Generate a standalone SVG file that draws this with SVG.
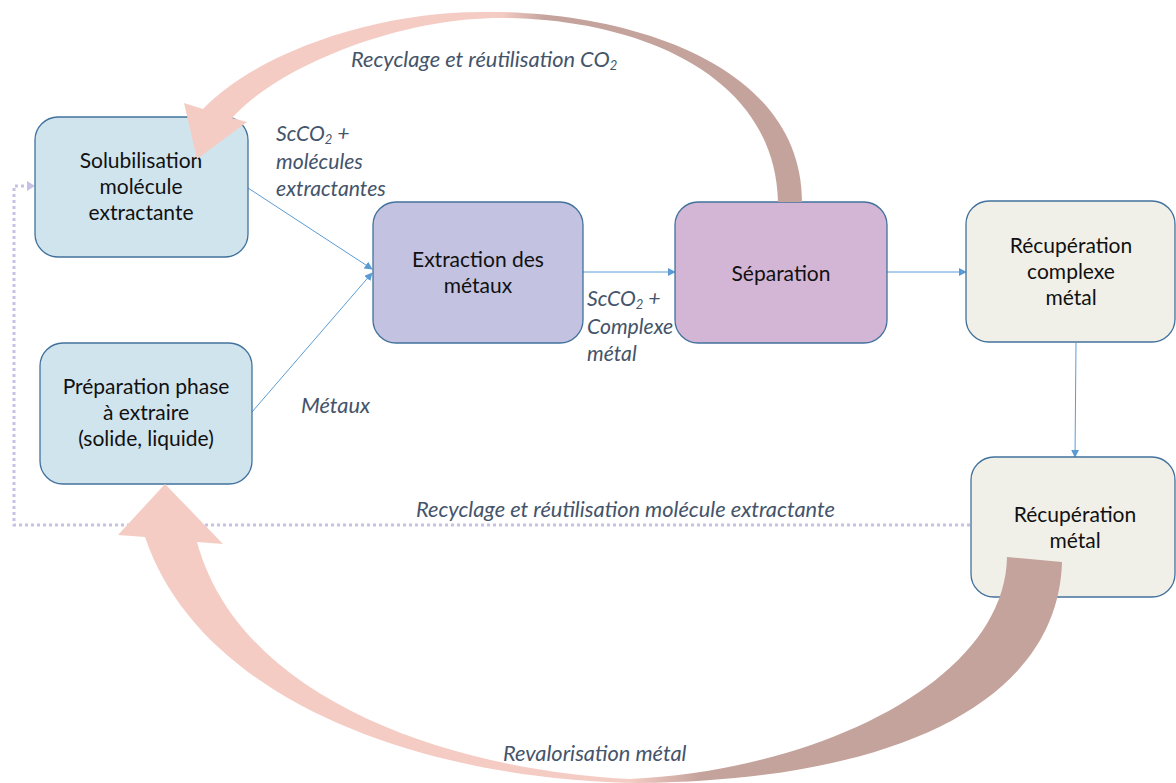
<svg xmlns="http://www.w3.org/2000/svg" width="1176" height="783" viewBox="0 0 1176 783">
<defs>
<style>
.box{stroke:#41719C;stroke-width:1.3}
.b1{fill:#D0E4EE}
.b2{fill:#C3C2E0}
.b3{fill:#D3B6D5}
.b4{fill:#F1F0E8}
.nt{font-family:Lato,"Liberation Sans",sans-serif;font-size:21px;fill:#111;text-anchor:middle}
.lb{font-family:Lato,"Liberation Sans",sans-serif;font-size:21.8px;font-style:italic;fill:#44546A}
.lm{font-size:21.2px}
.sub{font-size:13px}
.conn{stroke:#5B9BD5;stroke-width:1;fill:none}
.dot{stroke:#C7C2E3;stroke-width:3;stroke-dasharray:3 3;fill:none}
</style>
<marker id="ah" viewBox="0 0 10 10" refX="9" refY="5" markerWidth="8" markerHeight="8" markerUnits="userSpaceOnUse" orient="auto">
<path d="M0,0 L10,5 L0,10 Z" fill="#5B9BD5"/>
</marker>
<linearGradient id="gTop" gradientUnits="userSpaceOnUse" x1="180" y1="0" x2="810" y2="0">
<stop offset="0" stop-color="#F4CCC4"/>
<stop offset="0.51" stop-color="#F4CCC4"/>
<stop offset="0.58" stop-color="#C4A39C"/>
<stop offset="1" stop-color="#C4A39C"/>
</linearGradient>
<linearGradient id="gBot" gradientUnits="userSpaceOnUse" x1="100" y1="0" x2="1100" y2="0">
<stop offset="0" stop-color="#F4CCC4"/>
<stop offset="0.53" stop-color="#F4CCC4"/>
<stop offset="0.60" stop-color="#C4A39C"/>
<stop offset="1" stop-color="#C4A39C"/>
</linearGradient>
</defs>
<rect width="1176" height="783" fill="#FFFFFF"/>

<g id="connectors">
<path class="dot" d="M970,525 H14 V186 H27"/>
<path d="M27,181 L35,186 L27,191 Z" fill="#C7C2E3"/>
<path class="conn" d="M248,188 L372,269" marker-end="url(#ah)"/>
<path class="conn" d="M252,412 L372,273" marker-end="url(#ah)"/>
<path class="conn" d="M583,272 L675,272" marker-end="url(#ah)"/>
<path class="conn" d="M887,272 L966,272" marker-end="url(#ah)"/>
<path class="conn" d="M1076,343 L1075,457" marker-end="url(#ah)"/>
</g>

<g id="n-solubilisation">
<rect class="box b1" x="35" y="117" width="213" height="140" rx="23"/>
<text class="nt" x="141" y="168">Solubilisation</text>
<text class="nt" x="141" y="194">molécule</text>
<text class="nt" x="141" y="220">extractante</text>
</g>
<g id="n-preparation">
<rect class="box b1" x="40" y="343" width="212" height="141" rx="23"/>
<text class="nt" x="146" y="394">Préparation phase</text>
<text class="nt" x="146" y="420">à extraire</text>
<text class="nt" x="146" y="446">(solide, liquide)</text>
</g>
<g id="n-extraction">
<rect class="box b2" x="373" y="202" width="210" height="141" rx="23"/>
<text class="nt" x="478" y="267">Extraction des</text>
<text class="nt" x="478" y="293">métaux</text>
</g>
<g id="n-separation">
<rect class="box b3" x="675" y="202" width="212" height="141" rx="23"/>
<text class="nt" x="781" y="281">Séparation</text>
</g>
<g id="n-recup-complexe">
<rect class="box b4" x="966" y="201" width="209" height="141" rx="23"/>
<text class="nt" x="1071" y="253">Récupération</text>
<text class="nt" x="1071" y="279">complexe</text>
<text class="nt" x="1071" y="305">métal</text>
</g>
<g id="n-recup-metal">
<rect class="box b4" x="971" y="457" width="204" height="140" rx="23"/>
<text class="nt" x="1075" y="522">Récupération</text>
<text class="nt" x="1075" y="548">métal</text>
</g>

<g id="big-arrows">
<path fill="url(#gTop)" d="M802,202 C802,60 620,10 480,12 C380,12 260,50 203,109 L184,103 L197,159 L247,122 L232,118 C280,65 400,18 500,18 C630,18 775,70 778,202 Z"/>
<path fill="url(#gBot)" d="M1062,562 C1058,700 900,780 640,783 C420,780 200,700 145,537 L118,535 L165,484 L223,544 L197,542 C240,700 450,770 630,779 C820,770 1005,680 1007,557 Z"/>
</g>

<g id="labels">
<text class="lb" x="351" y="67">Recyclage et réutilisation CO<tspan class="sub" dy="3">2</tspan></text>
<text class="lb lm" x="276" y="141">ScCO<tspan class="sub" dy="3">2</tspan><tspan dy="-3"> +</tspan></text>
<text class="lb lm" x="276" y="169">molécules</text>
<text class="lb lm" x="276" y="196">extractantes</text>
<text class="lb" x="301" y="413">Métaux</text>
<text class="lb lm" x="587" y="306">ScCO<tspan class="sub" dy="3">2</tspan><tspan dy="-3"> +</tspan></text>
<text class="lb lm" x="587" y="334">Complexe</text>
<text class="lb lm" x="587" y="361">métal</text>
<text class="lb" x="416" y="517">Recyclage et réutilisation molécule extractante</text>
<text class="lb" x="503" y="761">Revalorisation métal</text>
</g>
</svg>
